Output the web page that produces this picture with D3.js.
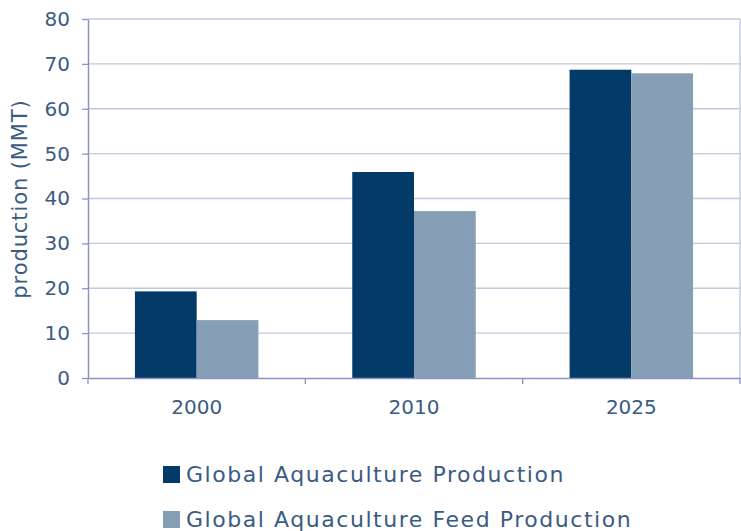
<!DOCTYPE html>
<html>
<head>
<meta charset="utf-8">
<script src="https://cdn.jsdelivr.net/npm/d3@7"></script>
<style>
  html, body { margin: 0; padding: 0; background: #ffffff; }
  svg { display: block; }
  text { font-family: "DejaVu Sans", Verdana, sans-serif; fill: #3b5b84; }
</style>
</head>
<body>
<svg id="chart" width="741" height="531"></svg>
<script>
// Years shown on the x axis
const years = ["2000", "2010", "2025"];
// Series names (legend order)
const seriesNames = ["Global Aquaculture Production", "Global Aquaculture Feed Production"];
// Production in million metric tonnes
const aquacultureProduction = [19.3, 45.9, 68.7];
const feedProduction = [12.9, 37.2, 67.9];
// Y axis ticks
const yTicks = [0, 10, 20, 30, 40, 50, 60, 70, 80];
const yTitle = "production (MMT)";

const seriesColors = ["#033a67", "#869fb7"];
const series = [aquacultureProduction, feedProduction];

const svg = d3.select("#chart");
const plot = { left: 88, right: 740, top: 19, bottom: 378 };

const x = d3.scaleBand().domain(years).range([plot.left, plot.right]).padding(0);
const xSeries = d3.scaleBand().domain(seriesNames).range([0, x.bandwidth()])
  .paddingInner(0).paddingOuter(0.76);
const y = d3.scaleLinear().domain([0, 80]).range([plot.bottom, plot.top]);

// Horizontal gridlines
svg.append("g")
  .selectAll("line")
  .data(yTicks.filter(d => d > 0))
  .join("line")
  .attr("x1", plot.left).attr("x2", plot.right)
  .attr("y1", d => y(d)).attr("y2", d => y(d))
  .attr("stroke", "#c3c8e0").attr("stroke-width", 1.4);

// Right border of the plot area
svg.append("line")
  .attr("x1", plot.right).attr("x2", plot.right)
  .attr("y1", plot.top).attr("y2", plot.bottom)
  .attr("stroke", "#c3c8e0").attr("stroke-width", 1.4);

// Bars
const groups = svg.append("g")
  .selectAll("g")
  .data(years)
  .join("g")
  .attr("transform", d => `translate(${x(d)},0)`);

groups.selectAll("rect")
  .data((yr, i) => seriesNames.map((name, s) => ({ name, s, value: series[s][i] })))
  .join("rect")
  .attr("x", d => xSeries(d.name))
  .attr("width", xSeries.bandwidth())
  .attr("y", d => y(d.value))
  .attr("height", d => y(0) - y(d.value))
  .attr("fill", d => seriesColors[d.s]);

// Y axis
const yAxis = svg.append("g")
  .attr("transform", `translate(${plot.left},0)`)
  .call(d3.axisLeft(y).tickValues(yTicks).tickSize(6).tickPadding(12).tickSizeOuter(0));
yAxis.select(".domain").attr("stroke", "#8c92c2").attr("stroke-width", 1.5);
yAxis.selectAll(".tick line").attr("stroke", "#8c92c2").attr("stroke-width", 1.3);
yAxis.selectAll(".tick text")
  .attr("font-size", 20).attr("fill", "#3b5b84")
  .style("font-family", "'DejaVu Sans', Verdana, sans-serif");

// X axis
const xAxis = svg.append("g")
  .attr("transform", `translate(0,${plot.bottom})`)
  .call(d3.axisBottom(x).tickSize(0).tickPadding(22));
xAxis.select(".domain").attr("stroke", "#8c92c2").attr("stroke-width", 1.5);
xAxis.selectAll(".tick text")
  .attr("font-size", 20).attr("fill", "#3b5b84")
  .style("font-family", "'DejaVu Sans', Verdana, sans-serif");

// Category separator ticks below the x axis
svg.append("g")
  .selectAll("line")
  .data(years.map(d => x(d)).concat([plot.right]))
  .join("line")
  .attr("x1", d => d).attr("x2", d => d)
  .attr("y1", plot.bottom).attr("y2", plot.bottom + 6)
  .attr("stroke", "#8c92c2").attr("stroke-width", 1.3);

// Y axis title
svg.append("text")
  .attr("transform", `translate(27,${(98 + 300) / 2}) rotate(-90)`)
  .attr("text-anchor", "middle")
  .attr("font-size", 21)
  .attr("letter-spacing", 0.9)
  .text(yTitle);

// Legend
const legend = svg.append("g")
  .selectAll("g")
  .data(seriesNames)
  .join("g")
  .attr("transform", (d, i) => `translate(163,${482 + i * 45})`);

legend.append("rect")
  .attr("x", 0).attr("y", -16)
  .attr("width", 17).attr("height", 17)
  .attr("fill", (d, i) => seriesColors[i]);

legend.append("text")
  .attr("x", 23).attr("y", 0)
  .attr("font-size", 22)
  .attr("letter-spacing", 1.55)
  .text(d => d);
</script>
</body>
</html>
